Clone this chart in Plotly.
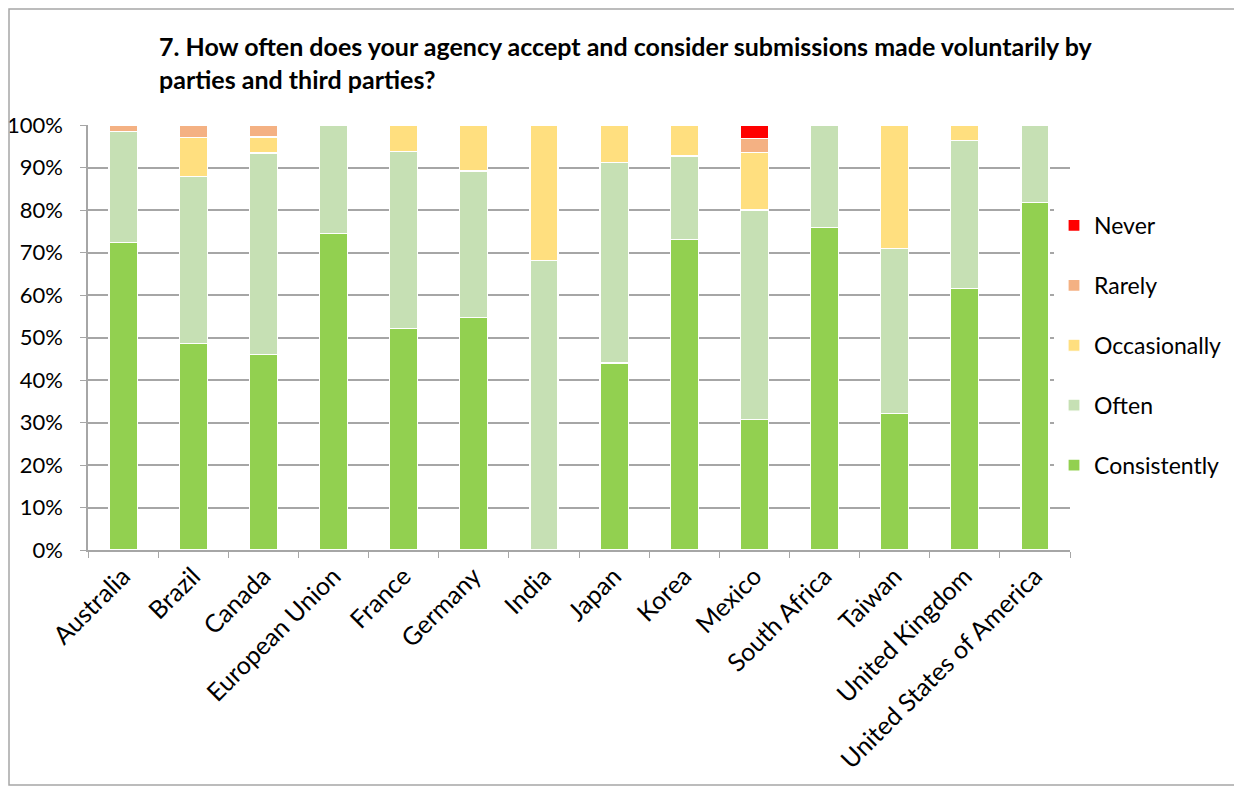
import plotly.graph_objects as go

countries = ["Australia", "Brazil", "Canada", "European Union", "France", "Germany",
             "India", "Japan", "Korea", "Mexico", "South Africa", "Taiwan",
             "United Kingdom", "United States of America"]
consistently = [72.4, 48.5, 46.0, 74.5, 52.1, 54.8, 0.0, 44.0, 73.0, 30.7, 75.8, 32.1, 61.6, 81.7]
often =        [26.1, 39.4, 47.4, 25.5, 41.6, 34.4, 68.1, 47.2, 19.7, 49.3, 24.2, 38.9, 34.7, 18.3]
occasionally = [0.0, 9.1, 3.8, 0.0, 6.3, 10.8, 31.9, 8.8, 7.3, 13.5, 0.0, 29.0, 3.7, 0.0]
rarely =       [1.5, 3.0, 2.8, 0.0, 0.0, 0.0, 0.0, 0.0, 0.0, 3.3, 0.0, 0.0, 0.0, 0.0]
never =        [0.0, 0.0, 0.0, 0.0, 0.0, 0.0, 0.0, 0.0, 0.0, 3.2, 0.0, 0.0, 0.0, 0.0]

series = [
    ("Consistently", consistently, "#92D050", 5),
    ("Often", often, "#C6E0B4", 4),
    ("Occasionally", occasionally, "#FFDF7F", 3),
    ("Rarely", rarely, "#F4B183", 2),
    ("Never", never, "#FF0000", 1),
]

FONT = "Lato"
# page body has an 8px margin; figure sized to fit the window
W, H = 1234, 778
L, R, T, B = 80, 172, 117, 236
PW, PH = W - L - R, H - T - B

fig = go.Figure()
for name, vals, color, rank in series:
    fig.add_trace(go.Bar(
        x=countries, y=[v / 100 for v in vals], name=name, legendgroup=name,
        legendrank=rank,
        marker=dict(color=color, line=dict(color="white", width=1.2)),
    ))

fig.update_layout(
    width=W, height=H,
    margin=dict(l=L, r=R, t=T, b=B, autoexpand=False),
    barmode="stack", bargap=0.6,
    paper_bgcolor="white", plot_bgcolor="white",
    font=dict(family=FONT, color="black", size=22),
    showlegend=True,
    legend=dict(x=(1046 - L) / PW, xanchor="left", y=(T + PH - 196) / PH, yanchor="top",
                traceorder="grouped", tracegroupgap=27,
                font=dict(size=23, family=FONT), itemwidth=30),
    xaxis=dict(tickangle=-45, showline=True, linecolor="#A6A6A6", linewidth=1.5,
               ticks="outside", tickson="boundaries", ticklen=6, tickcolor="#A6A6A6",
               tickfont=dict(size=25), showgrid=False),
    yaxis=dict(range=[0, 1], dtick=0.1, tickformat=".0%", showline=True,
               linecolor="#A6A6A6", linewidth=1.5, ticks="outside", ticklen=6,
               tickcolor="#A6A6A6", gridcolor="#A6A6A6", gridwidth=1.5,
               tickfont=dict(size=22), zeroline=False, ticklabelstandoff=13),
    annotations=[dict(
        text="<b>7. How often does your agency accept and consider submissions made voluntarily by<br>parties and third parties?</b>",
        xref="paper", yref="paper", x=(149 - L) / PW, y=1 + (T - 21) / PH,
        xanchor="left", yanchor="top", align="left", showarrow=False,
        font=dict(size=25, family=FONT))],
    shapes=[dict(type="rect", xref="paper", yref="paper",
                 x0=-(L - 1) / PW, x1=1 + (R + 200) / PW,
                 y0=-(B - 1) / PH, y1=1 + (T - 1) / PH,
                 line=dict(color="#A6A6A6", width=1.5), fillcolor="rgba(0,0,0,0)")],
)

fig.write_html("out.html")
